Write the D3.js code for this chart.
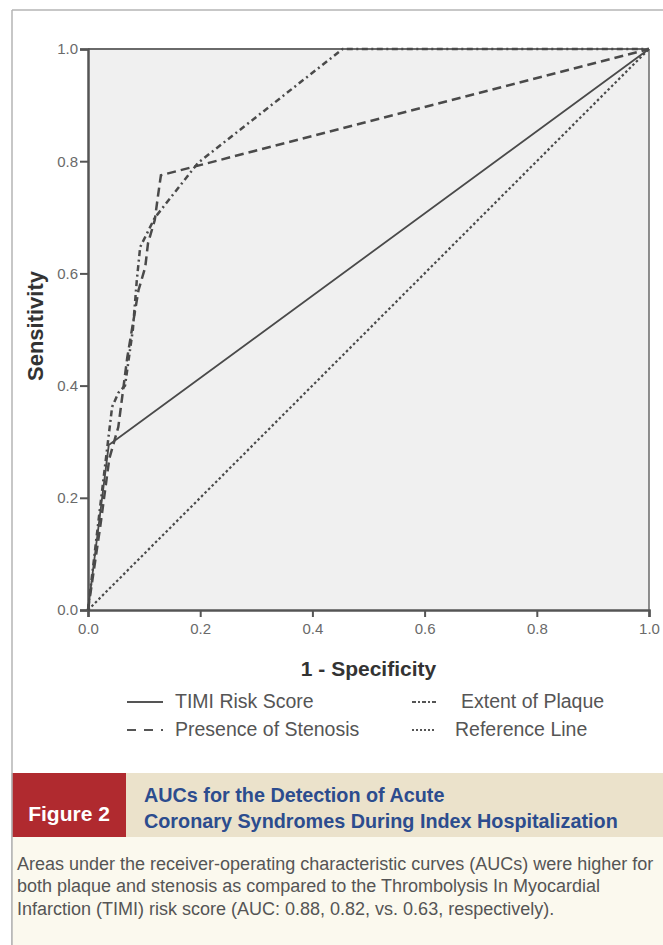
<!DOCTYPE html>
<html>
<head>
<meta charset="utf-8">
<script src="https://cdn.jsdelivr.net/npm/d3@7"></script>
<style>
  html, body { margin: 0; padding: 0; background: #fff; }
  svg { display: block; }
</style>
</head>
<body>
<svg id="chart" width="663" height="945"></svg>
<script>
// ---- data ----
const tickValues = [0, 0.2, 0.4, 0.6, 0.8, 1.0];

const timiX = [0, 0.037, 1];
const timiY = [0, 0.294, 1];

const stenosisX = [0, 0.022, 0.038, 0.054, 0.061, 0.07, 0.09, 0.102, 0.107, 0.119, 0.125, 0.13, 1];
const stenosisY = [0, 0.15, 0.27, 0.326, 0.38, 0.45, 0.57, 0.611, 0.654, 0.695, 0.74, 0.775, 1];

const plaqueX = [0, 0.02, 0.043, 0.054, 0.066, 0.08, 0.087, 0.093, 0.119, 0.196, 0.454, 1];
const plaqueY = [0, 0.17, 0.362, 0.387, 0.40, 0.50, 0.588, 0.647, 0.699, 0.797, 1, 1];

const referenceX = [0, 1];
const referenceY = [0, 1];

const legendLabels = ["TIMI Risk Score", "Extent of Plaque", "Presence of Stenosis", "Reference Line"];

const figureLabel = "Figure 2";
const titleLines = ["AUCs for the Detection of Acute", "Coronary Syndromes During Index Hospitalization"];
const bodyLines = [
  "Areas under the receiver-operating characteristic curves (AUCs) were higher for",
  "both plaque and stenosis as compared to the Thrombolysis In Myocardial",
  "Infarction (TIMI) risk score (AUC: 0.88, 0.82, vs. 0.63, respectively)."
];

// ---- drawing ----
const svg = d3.select("#chart");
const font = "'Liberation Sans', Arial, Helvetica, sans-serif";
const lineColor = "#4a4a4a";

// outer frame
svg.append("line").attr("x1", 12).attr("x2", 663).attr("y1", 10).attr("y2", 10)
  .attr("stroke", "#b5b5b5").attr("stroke-width", 1.5);
svg.append("line").attr("x1", 12).attr("x2", 12).attr("y1", 10).attr("y2", 945)
  .attr("stroke", "#b5b5b5").attr("stroke-width", 1.5);

const x = d3.scaleLinear().domain([0, 1]).range([88, 649]);
const y = d3.scaleLinear().domain([0, 1]).range([610, 49]);

// plot background
svg.append("rect")
  .attr("x", x(0)).attr("y", y(1))
  .attr("width", x(1) - x(0)).attr("height", y(0) - y(1))
  .attr("fill", "#f0f0f0");

// top & right border
svg.append("line").attr("x1", x(0)).attr("x2", x(1)).attr("y1", y(1)).attr("y2", y(1))
  .attr("stroke", "#6a6a6a").attr("stroke-width", 2);
svg.append("line").attr("x1", x(1)).attr("x2", x(1)).attr("y1", y(1)).attr("y2", y(0))
  .attr("stroke", "#6a6a6a").attr("stroke-width", 1.5);

// axes
const fmt = d3.format(".1f");
const yAxis = svg.append("g").attr("transform", `translate(${x(0)},0)`)
  .call(d3.axisLeft(y).tickValues(tickValues).tickFormat(fmt).tickSize(8).tickPadding(2));
const xAxis = svg.append("g").attr("transform", `translate(0,${y(0)})`)
  .call(d3.axisBottom(x).tickValues(tickValues).tickFormat(fmt).tickSize(7).tickPadding(6));

[xAxis, yAxis].forEach(g => {
  g.select(".domain").attr("stroke", "#555").attr("stroke-width", 2.5);
  g.selectAll(".tick line").attr("stroke", "#555").attr("stroke-width", 2);
  g.selectAll(".tick text").attr("fill", "#6a6a6a")
    .style("font-family", font).style("font-size", "15px");
});

// curves
const lineGen = d3.line().x(d => x(d[0])).y(d => y(d[1]));
const zip = (a, b) => a.map((v, i) => [v, b[i]]);

const series = [
  { xs: referenceX, ys: referenceY, dash: "2.5,2.5", width: 2.2 },
  { xs: timiX, ys: timiY, dash: null, width: 1.8 },
  { xs: stenosisX, ys: stenosisY, dash: "9,5", width: 2.5 },
  { xs: plaqueX, ys: plaqueY, dash: "6,3.5,2,3.5", width: 2.5 }
];
series.forEach(s => {
  svg.append("path")
    .attr("d", lineGen(zip(s.xs, s.ys)))
    .attr("fill", "none")
    .attr("stroke", lineColor)
    .attr("stroke-width", s.width)
    .attr("stroke-dasharray", s.dash);
});

// axis titles
svg.append("text")
  .attr("x", (x(0) + x(1)) / 2).attr("y", 670)
  .attr("text-anchor", "middle").attr("dominant-baseline", "middle")
  .style("font-family", font).style("font-weight", "bold").style("font-size", "21px")
  .attr("fill", "#333").text("1 - Specificity");

svg.append("text")
  .attr("transform", "translate(37,326) rotate(-90)")
  .attr("text-anchor", "middle").attr("dominant-baseline", "middle")
  .style("font-family", font).style("font-weight", "bold").style("font-size", "22px")
  .attr("fill", "#333").text("Sensitivity");

// legend
const legendItems = [
  { label: legendLabels[0], x1: 127, x2: 163, tx: 175, y: 703, dash: null, w: 2.2 },
  { label: legendLabels[1], x1: 412, x2: 436, tx: 461, y: 703, dash: "4,2,2,2", w: 2 },
  { label: legendLabels[2], x1: 127, x2: 163, tx: 175, y: 731, dash: "9,8", w: 2.2 },
  { label: legendLabels[3], x1: 412, x2: 436, tx: 455, y: 731, dash: "2,2", w: 2 }
];
legendItems.forEach(it => {
  svg.append("line")
    .attr("x1", it.x1).attr("x2", it.x2).attr("y1", it.y - 1).attr("y2", it.y - 1)
    .attr("stroke", "#555").attr("stroke-width", it.w)
    .attr("stroke-dasharray", it.dash);
  svg.append("text")
    .attr("x", it.tx).attr("y", it.y)
    .attr("dominant-baseline", "middle")
    .style("font-family", font).style("font-size", "19.5px")
    .attr("fill", "#555").text(it.label);
});

// caption
svg.append("rect").attr("x", 12).attr("y", 837).attr("width", 651).attr("height", 108).attr("fill", "#fbf9ee");
svg.append("rect").attr("x", 126).attr("y", 773).attr("width", 537).attr("height", 64).attr("fill", "#ebe2cb");
svg.append("rect").attr("x", 12).attr("y", 773).attr("width", 114).attr("height", 64).attr("fill", "#b02a2f");
svg.append("line").attr("x1", 12).attr("x2", 12).attr("y1", 773).attr("y2", 945)
  .attr("stroke", "#b5b5b5").attr("stroke-width", 1.5);

svg.append("text")
  .attr("x", 69).attr("y", 815)
  .attr("text-anchor", "middle").attr("dominant-baseline", "middle")
  .style("font-family", font).style("font-weight", "bold").style("font-size", "21px")
  .attr("fill", "#ffffff").text(figureLabel);

titleLines.forEach((t, i) => {
  svg.append("text")
    .attr("x", 144).attr("y", 797 + i * 26)
    .attr("dominant-baseline", "middle")
    .style("font-family", font).style("font-weight", "bold").style("font-size", "19.8px")
    .attr("fill", "#2c4c8e").text(t);
});

bodyLines.forEach((t, i) => {
  svg.append("text")
    .attr("x", 17).attr("y", 865 + i * 22.5)
    .attr("dominant-baseline", "middle")
    .style("font-family", font).style("font-size", "18px")
    .attr("fill", "#555").text(t);
});
</script>
</body>
</html>
